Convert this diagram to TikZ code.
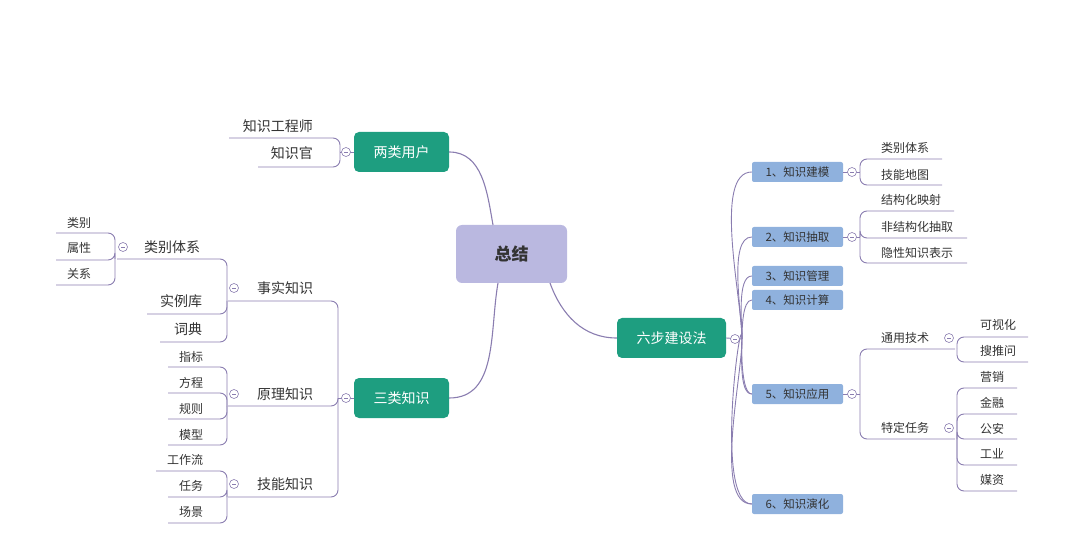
\documentclass[tikz,border=0pt]{standalone}
\usepackage{fontspec}
\setmainfont{Noto Sans CJK SC}
\begin{document}
\begin{tikzpicture}[x=1pt,y=-1pt,
  conn/.style={draw=lineC,line width=0.9pt,rounded corners=7pt},
  curv/.style={draw=lineC,line width=1.1pt},
  gbox/.style={fill=greenC,rounded corners=5pt,minimum width=95pt,minimum height=40pt,text=white,font=\fontsize{14}{16}\selectfont},
  bbox/.style={fill=blueC,rounded corners=2pt,minimum width=91pt,minimum height=20pt,text=textC,font=\fontsize{11.5}{13}\selectfont},
  big/.style={text=textC,font=\fontsize{14}{16}\selectfont,inner sep=0pt},
  sml/.style={text=textC,font=\fontsize{12}{14}\selectfont,inner sep=0pt},
  mm/.style={circle,draw=lineC,fill=white,line width=0.6pt,minimum size=9pt,inner sep=0pt,
    path picture={\draw[lineC,line width=0.6pt] ([xshift=-2pt]path picture bounding box.center) -- ([xshift=2pt]path picture bounding box.center);}}]
\definecolor{lineC}{HTML}{8A7DB0}
\definecolor{greenC}{HTML}{1E9E80}
\definecolor{blueC}{HTML}{8FB1DD}
\definecolor{lavC}{HTML}{BAB8E0}
\definecolor{textC}{HTML}{333333}
\newcommand\kid[8]{\node[#8] (#1) at (#3,#4) {#2};\draw[conn] (#7) |- (#6,#5);}
\useasboundingbox (0,0) rectangle (1080,540);
% main nodes
\node[fill=lavC,rounded corners=6pt,minimum width=111pt,minimum height=58pt,font=\bfseries\fontsize{17}{19}\selectfont,text=textC] (root) at (511.5,254) {总结};
\node[gbox] (two) at (401.5,152) {两类用户};
\node[gbox] (three) at (401.5,398) {三类知识};
\node[gbox,minimum width=109pt] (six) at (671.5,338) {六步建设法};
\draw[curv] (493,225) to[out=100,in=0] (two.east);
\draw[curv] (498,283) to[out=-100,in=0] (three.east);
\draw[curv] (550,283) to[out=-70,in=180] (six.west);
% two
\coordinate (jTwo) at (340,152);
\node[big,anchor=east] (gcs) at (313,126) {知识工程师};
\node[big,anchor=east] (gzg) at (313,153) {知识官};
\draw[conn] (jTwo) |- (229,138);
\draw[conn] (jTwo) |- (258,167);
\draw[lineC,line width=0.9pt] (jTwo) -- (two.west);
% three
\coordinate (jThree) at (338,398);
\draw[lineC,line width=0.9pt] (jThree) -- (three.west);
\kid{fact}{事实知识}{285}{288}{301}{228}{jThree}{big}
\kid{prin}{原理知识}{285}{394}{406}{228}{jThree}{big}
\kid{skil}{技能知识}{285}{484}{497}{228}{jThree}{big}
\coordinate (jFact) at (227,301);
\kid{lbtx}{类别体系}{172}{247}{259}{117}{jFact}{big}
\kid{slk}{实例库}{181}{301}{314}{147}{jFact}{big}
\kid{cd}{词典}{188}{329}{342}{160}{jFact}{big}
\coordinate (jLb) at (115,259);
\kid{lb}{类别}{79}{223}{233}{56}{jLb}{sml}
\kid{sx}{属性}{79}{248}{260}{56}{jLb}{sml}
\kid{gx}{关系}{79}{274}{285}{56}{jLb}{sml}
\coordinate (jPrin) at (227,406);
\kid{zb}{指标}{191}{357}{367}{168}{jPrin}{sml}
\kid{fc}{方程}{191}{383}{393}{168}{jPrin}{sml}
\kid{gz}{规则}{191}{409}{419}{168}{jPrin}{sml}
\kid{mx}{模型}{191}{435}{445}{168}{jPrin}{sml}
\coordinate (jSkil) at (227,497);
\kid{gzl}{工作流}{185}{460}{471}{156}{jSkil}{sml}
\kid{rw}{任务}{191}{486}{497}{168}{jSkil}{sml}
\kid{cj}{场景}{191}{512}{523}{168}{jSkil}{sml}
\node[mm] at (346,152) {};
\node[mm] at (346,398) {};
\node[mm] at (234,288) {};
\node[mm] at (234,394) {};
\node[mm] at (234,484) {};
\node[mm] at (123,247) {};
% six
\coordinate (jSix) at (742,339);
\draw[lineC,line width=0.9pt] (six.east) -- (jSix);
\node[bbox] (s1) at (797.5,172) {1、知识建模};
\node[bbox] (s2) at (797.5,237) {2、知识抽取};
\node[bbox] (s3) at (797.5,276) {3、知识管理};
\node[bbox] (s4) at (797.5,300) {4、知识计算};
\node[bbox] (s5) at (797.5,394) {5、知识应用};
\node[bbox] (s6) at (797.5,504) {6、知识演化};
\foreach \s in {s1,s2,s3,s4,s5,s6}{\draw[curv,line width=0.9pt] (jSix) to[out=90,in=180,looseness=0.6] (\s.west);}
\foreach \s in {s5,s6}{\draw[curv,line width=0.9pt] (jSix) to[out=-90,in=180,looseness=0.6] (\s.west);}
\coordinate (j1) at (860,172);
\coordinate (j2) at (860,237);
\coordinate (j5) at (860,394);
\draw[lineC,line width=0.9pt] (s1.east) -- (j1) (s2.east) -- (j2) (s5.east) -- (j5);
\kid{r11}{类别体系}{881}{148}{159}{942}{j1}{sml,anchor=west}
\kid{r12}{技能地图}{881}{175}{185}{942}{j1}{sml,anchor=west}
\kid{r21}{结构化映射}{881}{200}{211}{954}{j2}{sml,anchor=west}
\kid{r22}{非结构化抽取}{881}{227}{238}{967}{j2}{sml,anchor=west}
\kid{r23}{隐性知识表示}{881}{253}{263}{967}{j2}{sml,anchor=west}
\kid{r51}{通用技术}{881}{338}{349}{955}{j5}{sml,anchor=west}
\kid{r52}{特定任务}{881}{428}{439}{955}{j5}{sml,anchor=west}
\coordinate (jA) at (957,349);
\coordinate (jB) at (957,439);
\kid{a1}{可视化}{980}{325}{337}{1028}{jA}{sml,anchor=west}
\kid{a2}{搜推问}{980}{351}{362}{1028}{jA}{sml,anchor=west}
\kid{b1}{营销}{980}{377}{388}{1017}{jB}{sml,anchor=west}
\kid{b2}{金融}{980}{403}{414}{1017}{jB}{sml,anchor=west}
\kid{b3}{公安}{980}{429}{439}{1017}{jB}{sml,anchor=west}
\kid{b4}{工业}{980}{454}{465}{1017}{jB}{sml,anchor=west}
\kid{b5}{媒资}{980}{480}{491}{1017}{jB}{sml,anchor=west}
\node[mm] at (735,339) {};
\node[mm] at (852,172) {};
\node[mm] at (852,237) {};
\node[mm] at (852,394) {};
\node[mm] at (949,338) {};
\node[mm] at (949,428) {};
\end{tikzpicture}
\end{document}
